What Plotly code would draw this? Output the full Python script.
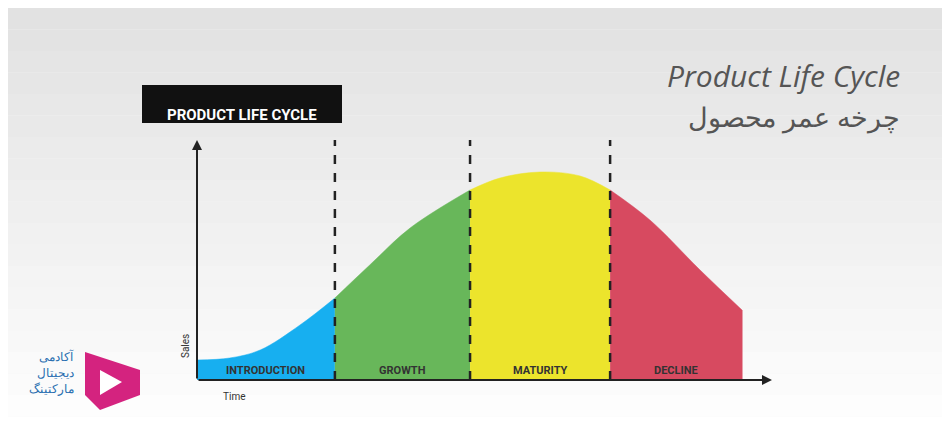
import plotly.graph_objects as go

# data: time (0-100) vs sales
time = [0, 6, 11.6, 18.9, 25.3, 31.7, 39.1, 50.1, 55.6, 62.9, 70.3, 75.8, 83.1, 92.3, 100]
sales = [10, 11, 15, 27.5, 41, 57.5, 76, 95, 101, 104, 102, 95, 80, 55, 35]
stages = ["INTRODUCTION", "GROWTH", "MATURITY", "DECLINE"]
stage_bounds = [0, 25.3, 50.1, 75.8, 100]
colors = ["#17aff0", "#68b75a", "#ece42c", "#d74a60"]

OFF = 8  # page body margin
def px(x):
    return (x - OFF) / 950
def py(y):
    return 1 - (y - OFF) / 430

fig = go.Figure()
for i in range(20):
    g = int(226 + i * 29 / 19)
    fig.add_shape(type="rect", xref="paper", yref="paper", x0=0, x1=1,
                  y0=1 - (i + 1) / 20, y1=1 - i / 20, line_width=0,
                  fillcolor=f"rgb({g},{g},{g})", layer="below")

for k in range(4):
    a, b = stage_bounds[k], stage_bounds[k + 1]
    xs = [t for t in time if a <= t <= b]
    ys = [s for t, s in zip(time, sales) if a <= t <= b]
    fig.add_trace(go.Scatter(x=xs, y=ys, mode="lines", fill="tozeroy", fillcolor=colors[k],
                             line=dict(color=colors[k], width=0.5, shape="spline"),
                             hoverinfo="skip"))
    fig.add_annotation(x=(a + b) / 2, y=5, text=f"<b>{stages[k]}</b>", showarrow=False,
                       font=dict(family="Roboto", size=11, color="#333"))
fig.add_shape(type="line", x0=100, x1=100, y0=0, y1=35, line=dict(color=colors[3], width=1))

for b in stage_bounds[1:4]:
    fig.add_shape(type="line", x0=b, x1=b, y0=0, y1=120,
                  line=dict(color="#222", width=2.5, dash="dash"))

fig.add_annotation(x=0, y=120, ax=0, ay=0, axref="x", ayref="y", xref="x", yref="y",
                   showarrow=True, arrowhead=2, arrowwidth=2, arrowcolor="#222", text="")
fig.add_annotation(x=105.5, y=0, ax=0, ay=0, axref="x", ayref="y", xref="x", yref="y",
                   showarrow=True, arrowhead=2, arrowwidth=2, arrowcolor="#222", text="")
fig.add_annotation(x=-2.2, y=17, text="Sales", textangle=-90, showarrow=False,
                   font=dict(family="Roboto", size=10, color="#333"))
fig.add_annotation(x=6.8, y=-8, text="Time", showarrow=False,
                   font=dict(family="Roboto", size=10, color="#333"))

fig.add_shape(type="rect", xref="paper", yref="paper", x0=px(142), x1=px(342),
              y0=py(123), y1=py(85), fillcolor="#111", line_width=0)
fig.add_annotation(xref="paper", yref="paper", x=px(242), y=py(104), xanchor="center",
                   text="<b>PRODUCT LIFE CYCLE</b>", showarrow=False,
                   font=dict(family="Liberation Sans Narrow, Roboto", size=15, color="white"))

fig.add_annotation(xref="paper", yref="paper", x=px(902), y=py(75), xanchor="right",
                   yanchor="middle", text="<i>Product Life Cycle</i>", showarrow=False,
                   font=dict(family="Open Sans", size=30, color="#555"))
fig.add_annotation(xref="paper", yref="paper", x=px(902), y=py(116), xanchor="right",
                   yanchor="middle", text="چرخه عمر محصول", showarrow=False,
                   font=dict(family="Noto Sans", size=27, color="#555"))

fig.add_shape(type="path", xref="paper", yref="paper",
              path=f"M {px(85)},{py(352)} L {px(140)},{py(370)} L {px(140)},{py(395)} L {px(100)},{py(410)} L {px(85)},{py(395)} Z",
              fillcolor="#d4237f", line_width=0)
fig.add_shape(type="path", xref="paper", yref="paper",
              path=f"M {px(100)},{py(370)} L {px(122)},{py(382)} L {px(100)},{py(395)} Z",
              fillcolor="#ffffff", line_width=0)
for i, t in enumerate(["آکادمی", "دیجیتال", "مارکتینگ"]):
    fig.add_annotation(xref="paper", yref="paper", x=px(76), y=py(367 + i * 16),
                       xanchor="right", text=t, showarrow=False,
                       font=dict(family="Noto Sans", size=12, color="#2a6fb0"))

ox, oy = 197 - OFF, 380 - OFF
fig.update_xaxes(range=[-ox / 5.45, (950 - ox) / 5.45], visible=False)
fig.update_yaxes(range=[-(430 - oy) / 2, oy / 2], visible=False)
fig.update_layout(width=950, height=430, margin=dict(l=0, r=0, t=0, b=0),
                  showlegend=False, plot_bgcolor="rgba(0,0,0,0)", paper_bgcolor="#f4f4f4")
fig.write_html("out.html")
